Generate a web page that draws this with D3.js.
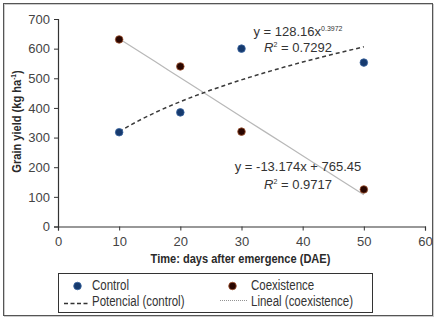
<!DOCTYPE html>
<html><head><meta charset="utf-8">
<script src="https://cdn.jsdelivr.net/npm/d3@7"></script>
<style>
html,body{margin:0;padding:0;background:#fff;}
svg{display:block;}
</style></head>
<body>
<svg id="chart" width="439" height="320"></svg>
<script>
const days = [10, 20, 30, 50];
const controlYield = [318, 385, 600, 553];
const coexistYield = [631, 540, 320, 125];
const xTicks = [0, 10, 20, 30, 40, 50, 60];
const yTicks = [0, 100, 200, 300, 400, 500, 600, 700];
const powerA = 128.16, powerB = 0.3972;
const linM = -13.174, linC = 765.45;
const fitDays = [10, 12, 14, 16, 18, 20, 22, 25, 28, 31, 34, 37, 40, 43, 46, 50];

const svg = d3.select("#chart");
const sans = "'Liberation Sans',Arial,sans-serif";
const NX = 0.82; // horizontal condensing for narrow text

// outer frame
svg.append("rect").attr("x",4.5).attr("y",4.5).attr("width",429).attr("height",312)
  .attr("fill","none").attr("stroke","#ccc").attr("stroke-width",1);
svg.append("rect").attr("x",3.5).attr("y",3.5).attr("width",429).attr("height",312)
  .attr("fill","none").attr("stroke","#555").attr("stroke-width",1);

const x = d3.scaleLinear().domain([0,60]).range([58,425]);
const y = d3.scaleLinear().domain([0,700]).range([226.5,19]);

const xAxis = svg.append("g").attr("transform","translate(0,226.5)")
  .call(d3.axisBottom(x).tickValues(xTicks).tickSize(4).tickPadding(6));
const yAxis = svg.append("g").attr("transform","translate(58,0)")
  .call(d3.axisLeft(y).tickValues(yTicks).tickSize(4).tickPadding(4));
[xAxis,yAxis].forEach(g=>{
  g.select(".domain").attr("stroke","#333").attr("stroke-width",1.2);
  g.selectAll(".tick line").attr("stroke","#333");
  g.selectAll(".tick text").attr("fill","#444").style("font-family",sans).style("font-size","13px");
});

function narrowText(px, py, rot, anchor, size, weight){
  const g = svg.append("g").attr("transform",`translate(${px},${py}) rotate(${rot}) scale(${NX},1)`);
  return g.append("text").attr("x",0).attr("y",0).attr("text-anchor",anchor)
    .style("font-family",sans).style("font-weight",weight).style("font-size",size+"px").attr("fill","#2a2a2a");
}

// axis titles
narrowText(240.5, 263, 0, "middle", 13.5, "bold").text("Time: days after emergence (DAE)");
const yt = narrowText(21, 121.5, -90, "middle", 13.5, "bold");
yt.append("tspan").text("Grain yield (kg ha");
yt.append("tspan").attr("dy",-5).style("font-size","8px").text("-1");
yt.append("tspan").attr("dy",5).text(")");

// fit lines
const lineGen = d3.line().x(d=>x(d[0])).y(d=>y(d[1]));
svg.append("path").datum(fitDays.map(d=>[d, linC + linM*d]))
  .attr("d",lineGen).attr("fill","none").attr("stroke","#b8b8b8").attr("stroke-width",1.2);
svg.append("path").datum(fitDays.map(d=>[d, powerA*Math.pow(d,powerB)]))
  .attr("d",lineGen).attr("fill","none").attr("stroke","#3a3a3a").attr("stroke-width",1.5)
  .attr("stroke-dasharray","4,3");

// points
svg.append("g").selectAll("circle").data(days.map((d,i)=>[d,controlYield[i]])).join("circle")
  .attr("cx",d=>x(d[0])).attr("cy",d=>y(d[1])).attr("r",3.8)
  .attr("fill","#163a6e").attr("stroke","#3a64a0").attr("stroke-width",0.8);
svg.append("g").selectAll("circle").data(days.map((d,i)=>[d,coexistYield[i]])).join("circle")
  .attr("cx",d=>x(d[0])).attr("cy",d=>y(d[1])).attr("r",3.8)
  .attr("fill","#2a0600").attr("stroke","#a0522d").attr("stroke-width",0.8);

// equations
function eq(xc, yb, parts){
  const t = svg.append("text").attr("x",xc).attr("y",yb).attr("text-anchor","middle")
    .style("font-family",sans).style("font-size","13px").attr("fill","#333");
  parts.forEach(p=>{
    const s = t.append("tspan").text(p.t);
    if(p.sup){ s.attr("dy",-5).style("font-size","7px"); }
    if(p.down){ s.attr("dy",5); }
    if(p.it){ s.style("font-style","italic"); }
  });
}
eq(298, 35.5, [{t:"y = 128.16x"},{t:"0.3972",sup:true}]);
eq(298, 51.5, [{t:"R",it:true},{t:"2",sup:true},{t:" = 0.7292",down:true}]);
eq(298, 170.5, [{t:"y = -13.174x + 765.45"}]);
eq(298, 188.5, [{t:"R",it:true},{t:"2",sup:true},{t:" = 0.9717",down:true}]);

// legend
const lg = svg.append("g");
lg.append("rect").attr("x",58.5).attr("y",273.5).attr("width",314).attr("height",39)
  .attr("fill","#fff").attr("stroke","#333").attr("stroke-width",1);
lg.append("circle").attr("cx",77.5).attr("cy",286).attr("r",3.8).attr("fill","#163a6e").attr("stroke","#3a64a0").attr("stroke-width",0.8);
narrowText(92, 290, 0, "start", 14, "normal").attr("fill","#333").text("Control");
lg.append("line").attr("x1",64).attr("x2",89).attr("y1",303.5).attr("y2",303.5)
  .attr("stroke","#333").attr("stroke-width",1.3).attr("stroke-dasharray","4,2.5");
narrowText(92, 305.5, 0, "start", 14, "normal").attr("fill","#333").text("Potencial (control)");
lg.append("circle").attr("cx",232.5).attr("cy",286).attr("r",3.8).attr("fill","#2a0600").attr("stroke","#a0522d").attr("stroke-width",0.8);
narrowText(251, 290, 0, "start", 14, "normal").attr("fill","#333").text("Coexistence");
lg.append("line").attr("x1",220).attr("x2",247).attr("y1",300.5).attr("y2",300.5)
  .attr("stroke","#777").attr("stroke-width",0.8).attr("stroke-dasharray","1,1");
narrowText(251, 305.5, 0, "start", 14, "normal").attr("fill","#333").text("Lineal (coexistence)");
</script>
</body></html>
